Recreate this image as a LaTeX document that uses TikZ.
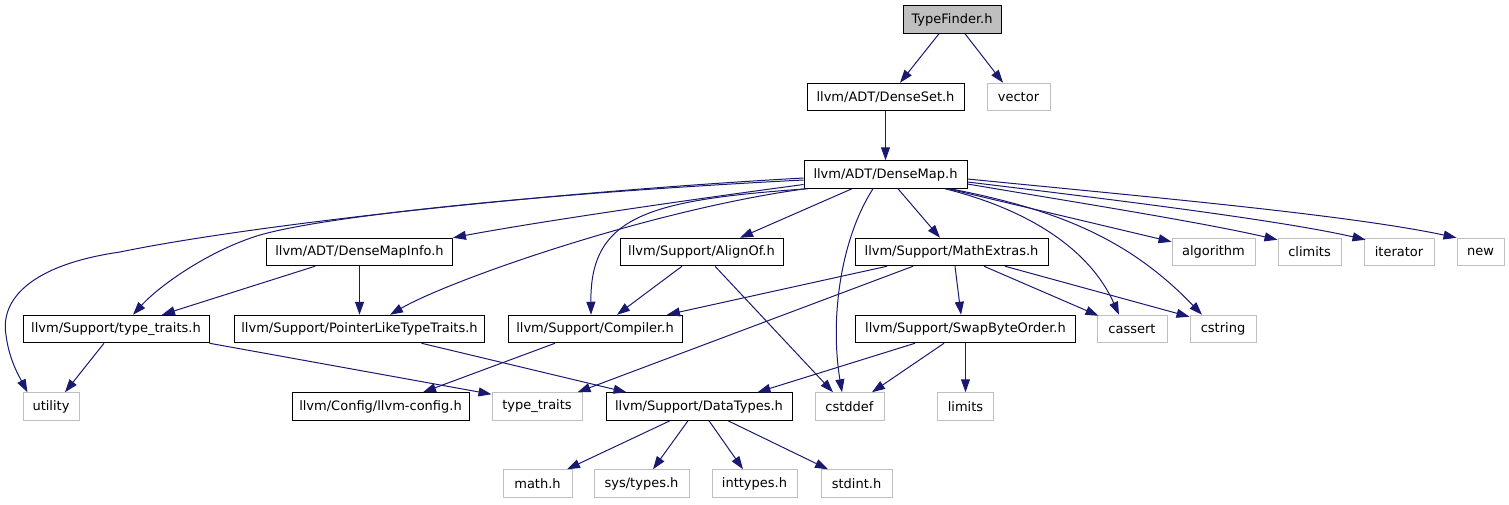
\documentclass[tikz,border=0pt]{standalone}
\usepackage{fontspec}
\setmainfont{DejaVu Sans}
\usetikzlibrary{arrows.meta}
\definecolor{edgec}{HTML}{191970}
\definecolor{grayb}{HTML}{BFBFBF}
\begin{document}
\begin{tikzpicture}[x=1pt,y=-1pt,
 box/.style={draw=black, line width=1pt, inner sep=0pt, minimum height=27.5pt, font=\fontsize{13}{15}\selectfont, fill=white},
 ext/.style={box, draw=grayb},
 root/.style={box, fill=grayb},
 edge/.style={draw=edgec, line width=1pt, -{Triangle[length=13pt,width=9pt]}}]
\useasboundingbox (0,0) rectangle (1509,504);
% row 0
\node[root, minimum width=98pt] (TF) at (952,19.5) {TypeFinder.h};
% row 1
\node[box, minimum width=157pt] (DS) at (885.5,97) {llvm/ADT/DenseSet.h};
\node[ext, minimum width=63pt] (vector) at (1018.5,97) {vector};
% row 2
\node[box, minimum width=163pt] (DM) at (885.5,174.5) {llvm/ADT/DenseMap.h};
% row 3
\node[box, minimum width=186pt] (DMI) at (359.5,252) {llvm/ADT/DenseMapInfo.h};
\node[box, minimum width=163pt] (AO) at (701.5,252) {llvm/Support/AlignOf.h};
\node[box, minimum width=193pt] (ME) at (951.5,252) {llvm/Support/MathExtras.h};
\node[ext, minimum width=83pt] (algorithm) at (1213.5,252) {algorithm};
\node[ext, minimum width=63pt] (climits) at (1309.5,252) {climits};
\node[ext, minimum width=70pt] (iterator) at (1399,252) {iterator};
\node[ext, minimum width=47pt] (new) at (1480.5,252) {new};
% row 4
\node[box, minimum width=186pt] (TT) at (116,329) {llvm/Support/type\_traits.h};
\node[box, minimum width=250pt] (PLTT) at (359.5,329) {llvm/Support/PointerLikeTypeTraits.h};
\node[box, minimum width=174pt] (Comp) at (595,329) {llvm/Support/Compiler.h};
\node[box, minimum width=220pt] (SBO) at (965.5,329) {llvm/Support/SwapByteOrder.h};
\node[ext, minimum width=70pt] (cassert) at (1132,329) {cassert};
\node[ext, minimum width=66pt] (cstring) at (1223,329) {cstring};
% row 5
\node[ext, minimum width=56pt] (utility) at (51,406.5) {utility};
\node[box, minimum width=177pt] (LC) at (380.5,406.5) {llvm/Config/llvm-config.h};
\node[ext, minimum width=90pt] (typetraits) at (537,406.5) {type\_traits};
\node[box, minimum width=186pt] (DT) at (699,406.5) {llvm/Support/DataTypes.h};
\node[ext, minimum width=69pt] (cstddef) at (849.5,406.5) {cstddef};
\node[ext, minimum width=56pt] (limits) at (965.5,406.5) {limits};
% row 6
\node[ext, minimum width=69pt] (math) at (537.5,483.5) {math.h};
\node[ext, minimum width=95pt] (systypes) at (641.5,483.5) {sys/types.h};
\node[ext, minimum width=85pt] (inttypes) at (754.5,483.5) {inttypes.h};
\node[ext, minimum width=71pt] (stdint) at (856.5,483.5) {stdint.h};
% edges
\draw[edge] ([xshift=-13pt]TF.south) -- ([xshift=14.5pt]DS.north);
\draw[edge] ([xshift=13pt]TF.south) -- ([xshift=-15.5pt]vector.north);
\draw[edge] (DS) -- (DM);
\draw[edge] ([yshift=-3.5pt]DM.west) .. controls (550,192) and (250,225) .. (120,252) .. controls (30,265) and (0,300) .. (6,335) .. controls (9,360) and (20,378) .. ([xshift=5pt]utility.north west);
\draw[edge] ([yshift=-5.5pt]DM.west) .. controls (550,193) and (330,215) .. (260,235) .. controls (210,250) and (160,285) .. ([xshift=17pt]TT.north);
\draw[edge] ([yshift=-10pt]DM.west) .. controls (650,205) and (520,225) .. (DMI.north east);
\draw[edge] ([xshift=2pt]DM.south west) .. controls (650,210) and (450,280) .. ([xshift=30.5pt]PLTT.north);
\draw[edge] ([xshift=4pt]DM.south west) .. controls (650,200) and (590,215) .. ([xshift=-4pt]Comp.north);
\draw[edge] ([xshift=-33.5pt]DM.south) -- ([xshift=38.5pt]AO.north);
\draw[edge] ([xshift=-12.5pt]DM.south) .. controls (840,240) and (830,320) .. ([xshift=-7.5pt]cstddef.north);
\draw[edge] ([xshift=12.5pt]DM.south) -- ([xshift=-11.5pt]ME.north);
\draw[edge] ([xshift=59.5pt]DM.south) .. controls (1030,210) and (1090,250) .. ([xshift=-13pt]cassert.north);
\draw[edge] ([xshift=64.5pt]DM.south) .. controls (1060,210) and (1130,240) .. ([xshift=-21pt]cstring.north);
\draw[edge] ([xshift=62.5pt]DM.south) -- ([yshift=-4pt]algorithm.north west);
\draw[edge] ([yshift=-9.5pt]DM.east) .. controls (1080,203) and (1200,222) .. ([yshift=-2pt]climits.north west);
\draw[edge] ([yshift=-7.5pt]DM.east) .. controls (1100,198) and (1280,220) .. ([xshift=2pt,yshift=-2pt]iterator.north west);
\draw[edge] ([yshift=-4.5pt]DM.east) .. controls (1150,197) and (1350,215) .. (new.north west);
\draw[edge] ([xshift=-44.5pt]DMI.south) -- ([xshift=46pt]TT.north);
\draw[edge] (DMI) -- (PLTT);
\draw[edge] ([xshift=-19.5pt]AO.south) -- ([xshift=22pt]Comp.north);
\draw[edge] ([xshift=13.5pt]AO.south) -- ([xshift=-16.5pt]cstddef.north);
\draw[edge] ([xshift=-64.5pt]ME.south) -- ([xshift=72pt]Comp.north);
\draw[edge] ([xshift=-38.5pt]ME.south) -- ([xshift=-5pt]typetraits.north east);
\draw[edge] ([xshift=3.5pt]ME.south) -- ([xshift=-4.5pt]SBO.north);
\draw[edge] ([xshift=32.5pt]ME.south) -- ([xshift=2pt,yshift=-1pt]cassert.north west);
\draw[edge] ([xshift=53.5pt]ME.south) -- ([yshift=-2pt]cstring.north west);
\draw[edge] ([xshift=-12pt]TT.south) -- ([xshift=14pt]utility.north);
\draw[edge] (TT.south east) -- ([yshift=-2pt]typetraits.north west);
\draw[edge] ([xshift=62pt]PLTT.south) -- ([xshift=-72.5pt]DT.north);
\draw[edge] ([xshift=-40pt]Comp.south) -- ([xshift=42.5pt]LC.north);
\draw[edge] ([xshift=-50.5pt]SBO.south) -- ([xshift=58.5pt]DT.north);
\draw[edge] ([xshift=-21.5pt]SBO.south) -- ([xshift=22.5pt]cstddef.north);
\draw[edge] (SBO) -- (limits);
\draw[edge] ([xshift=-29pt]DT.south) -- ([xshift=29.5pt]math.north);
\draw[edge] ([xshift=-11pt]DT.south) -- ([xshift=11.5pt]systypes.north);
\draw[edge] ([xshift=10pt]DT.south) -- ([xshift=-11.5pt]inttypes.north);
\draw[edge] ([xshift=29pt]DT.south) -- ([xshift=-28.5pt]stdint.north);
\end{tikzpicture}
\end{document}
